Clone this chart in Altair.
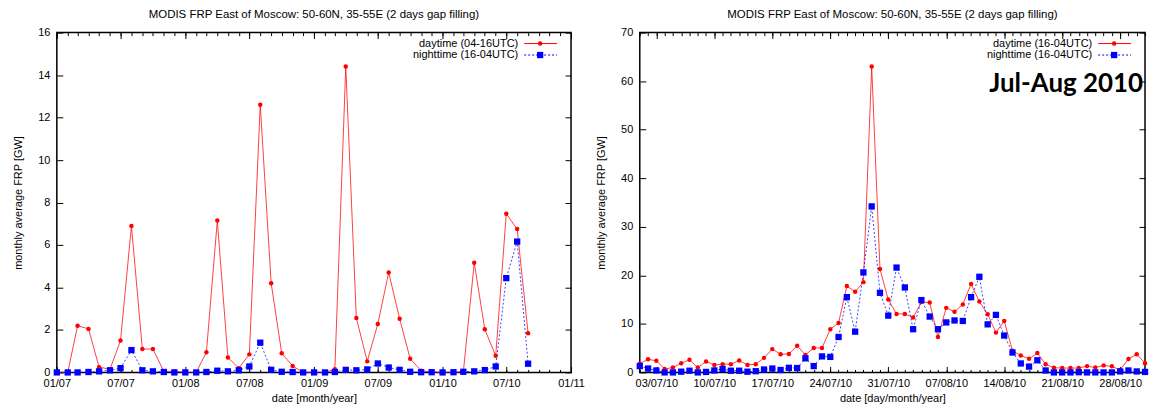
import altair as alt
import pandas as pd

FONT = "Liberation Sans"
TITLE = "MODIS FRP East of Moscow: 50-60N, 35-55E (2 days gap filling)"
Y_TITLE = "monthly average FRP [GW]"

# ---------------- left panel: monthly means, Jan 2007 - Sep 2010 ----------------
month_dates = [d.strftime("%Y-%m-%d") for d in pd.date_range("2007-01-01", "2010-09-01", freq="MS")]
day_monthly = [0.0, 0.0, 2.2, 2.05, 0.25, 0.15, 1.5, 6.9, 1.1, 1.1, 0.05, 0.05,
               0.0, 0.0, 0.95, 7.15, 0.7, 0.2, 0.85, 12.6, 4.2, 0.9, 0.3, 0.0,
               0.0, 0.0, 0.15, 14.4, 2.56, 0.52, 2.28, 4.7, 2.53, 0.64, 0.08, 0.02,
               0.0, 0.0, 0.02, 5.16, 2.03, 0.78, 7.47, 6.75, 1.84]
night_monthly = [0.0, 0.0, 0.0, 0.02, 0.05, 0.1, 0.2, 1.05, 0.1, 0.05, 0.02, 0.0,
                 0.0, 0.0, 0.02, 0.08, 0.05, 0.1, 0.28, 1.4, 0.12, 0.03, 0.02, 0.0,
                 0.0, 0.0, 0.02, 0.12, 0.1, 0.14, 0.42, 0.23, 0.12, 0.03, 0.01, 0.01,
                 0.0, 0.01, 0.03, 0.05, 0.11, 0.28, 4.44, 6.16, 0.41]
left_domain = ["2007-01-01", "2011-01-01"]
left_major = ["2007-01-01", "2007-07-01", "2008-01-01", "2008-07-01", "2009-01-01",
              "2009-07-01", "2010-01-01", "2010-07-01", "2011-01-01"]
left_minor = [d.strftime("%Y-%m-%d") for d in pd.date_range("2007-01-01", "2011-01-01", freq="MS")]
left_legend = ["daytime (04-16UTC)", "nighttime (16-04UTC)"]

# ---------------- right panel: daily values, Jul-Aug 2010 ----------------
day_dates = [d.strftime("%Y-%m-%d") for d in pd.date_range("2010-07-01", "2010-08-31", freq="D")]
day_daily = [1.8, 2.7, 2.4, 0.7, 1.0, 1.9, 2.6, 1.0, 2.25, 1.55, 1.7, 1.7, 2.45, 1.55, 1.7, 3.0,
             4.8, 3.75, 3.8, 5.5, 3.6, 5.05, 5.05, 8.9, 10.2, 17.8, 16.6, 18.6, 63.0, 21.3, 15.0,
             12.05, 12.05, 11.3, 14.5, 14.4, 7.3, 13.3, 12.5, 14.0, 18.2, 14.6, 12.0, 8.2, 10.6, 4.45,
             3.5, 2.8, 4.0, 1.7, 0.96, 0.9, 0.9, 0.9, 1.3, 1.0, 1.45, 1.25, 0.5, 2.75, 3.75, 1.9]
night_daily = [1.3, 0.8, 0.4, 0.0, 0.0, 0.15, 0.35, 0.0, 0.1, 0.4, 0.7, 0.35, 0.35, 0.15, 0.25, 0.6,
               0.8, 0.5, 0.95, 0.9, 2.9, 1.3, 3.3, 3.2, 7.3, 15.5, 8.4, 20.6, 34.2, 16.4, 11.7,
               21.6, 17.5, 8.9, 14.9, 11.5, 8.9, 10.3, 10.7, 10.6, 15.5, 19.7, 9.9, 11.85, 7.6, 4.1,
               1.85, 1.2, 2.5, 0.4, 0.0, 0.0, 0.0, 0.05, 0.0, 0.0, 0.0, 0.0, 0.2, 0.4, 0.2, 0.1]
right_domain = ["2010-07-01", "2010-08-31"]
right_major = ["2010-07-03", "2010-07-10", "2010-07-17", "2010-07-24", "2010-07-31",
               "2010-08-07", "2010-08-14", "2010-08-21", "2010-08-28"]
right_minor = day_dates
right_legend = ["daytime (16-04UTC)", "nighttime (16-04UTC)"]
stamp_text = ["Jul-Aug 2010"]

RED = "#ff0000"
BLUE = "#0000ff"
H = 341


def axis(orient, values, size, labels=False, title=None, fmt=None, **kw):
    opts = dict(orient=orient, values=values, tickSize=size, offset=-size, labels=labels,
                domain=False, grid=False, tickColor="black", tickWidth=1,
                labelFont=FONT, labelFontSize=11, labelColor="black",
                labelFlush=False, labelOverlap=False, labelBound=False,
                titleFont=FONT, titleFontSize=11, titleFontWeight="normal", titleColor="black")
    opts["title"] = title
    if fmt is not None:
        opts["format"] = fmt
    opts.update(kw)
    return alt.Axis(**opts)


def panel(dates, day, night, domain, major, minor, fmt, ymax, ystep, xtitle, legend, W, stamp=None):
    df = pd.DataFrame({"date": dates, "day": day, "night": night})
    base = alt.Chart(df)
    xs = alt.Scale(type="utc", domain=domain, nice=False)
    ys = alt.Scale(domain=[0, ymax], nice=False, zero=True)
    yvals = list(range(0, ymax + 1, ystep))

    red_line = base.mark_line(color=RED, strokeWidth=1, opacity=0.75).encode(
        x=alt.X("date:T", scale=xs,
                axis=axis("bottom", major, 6, labels=True, title=xtitle, fmt=fmt,
                          labelPadding=5, titlePadding=4)),
        y=alt.Y("day:Q", scale=ys,
                axis=axis("left", yvals, 6, labels=True, title=Y_TITLE,
                          labelPadding=7, titlePadding=14)),
    )
    blue_line = base.mark_line(color=BLUE, strokeWidth=1, strokeDash=[2, 2], opacity=0.75).encode(
        x=alt.X("date:T", scale=xs, axis=axis("top", major, 6)),
        y=alt.Y("night:Q", scale=ys, axis=None),
    )
    red_pts = base.mark_point(shape="circle", filled=True, color=RED, size=20, opacity=1).encode(
        x=alt.X("date:T", scale=xs, axis=axis("bottom", minor, 3)),
        y=alt.Y("day:Q", scale=ys, axis=axis("right", yvals, 6)),
    )
    blue_pts = base.mark_point(shape="square", filled=True, color=BLUE, size=40, opacity=1).encode(
        x=alt.X("date:T", scale=xs, axis=axis("top", minor, 3)),
        y=alt.Y("night:Q", scale=ys, axis=None),
    )

    layers = [red_line, blue_line, red_pts, blue_pts]

    # legend (top right, gnuplot style: label then sample)
    styles = [
        dict(color=RED, dash=None, shape="circle", size=20),
        dict(color=BLUE, dash=[2, 2], shape="square", size=40),
    ]
    for i, (lab, st) in enumerate(zip(legend, styles)):
        yy = 11 + 11.5 * i
        ldf = pd.DataFrame({"label": [lab]})
        lc = alt.Chart(ldf)
        layers.append(lc.mark_text(align="right", baseline="middle", font=FONT, fontSize=11,
                                   color="black").encode(
            text="label:N", x=alt.value(W - 53), y=alt.value(yy)))
        rule_kw = dict(color=st["color"], strokeWidth=1)
        if st["dash"]:
            rule_kw["strokeDash"] = st["dash"]
        layers.append(lc.mark_rule(**rule_kw).encode(
            x=alt.value(W - 47), x2=alt.value(W - 14), y=alt.value(yy)))
        layers.append(lc.mark_point(shape=st["shape"], filled=True, color=st["color"],
                                    size=st["size"], opacity=1).encode(
            x=alt.value(W - 31), y=alt.value(yy)))

    if stamp is not None:
        sdf = pd.DataFrame({"label": stamp})
        layers.append(alt.Chart(sdf).mark_text(align="right", baseline="alphabetic", font="Lato",
                                               fontSize=26, fontWeight="bold", color="black").encode(
            text="label:N", x=alt.value(W - 2), y=alt.value(60)))

    return alt.layer(*layers).resolve_axis(x="independent", y="independent").properties(
        width=W, height=H,
        title=alt.Title(TITLE, font=FONT, fontSize=11.5, fontWeight="normal", color="black",
                        anchor="middle", baseline="alphabetic", offset=0, dy=3),
    )


left = panel(month_dates, day_monthly, night_monthly, left_domain, left_major, left_minor,
             "%m/%y", 16, 2, "date [month/year]", left_legend, 516)
right = panel(day_dates, day_daily, night_daily, right_domain, right_major, right_minor,
              "%d/%m/%y", 70, 10, "date [day/month/year]", right_legend, 507, stamp=stamp_text)

chart = alt.hconcat(left, right, spacing=69, bounds="flush").configure_view(
    stroke="black", strokeWidth=1.5
).properties(padding={"left": 4, "top": -1, "right": 0, "bottom": 0})

chart.save("out.html", embed_options={"renderer": "svg", "actions": False})
